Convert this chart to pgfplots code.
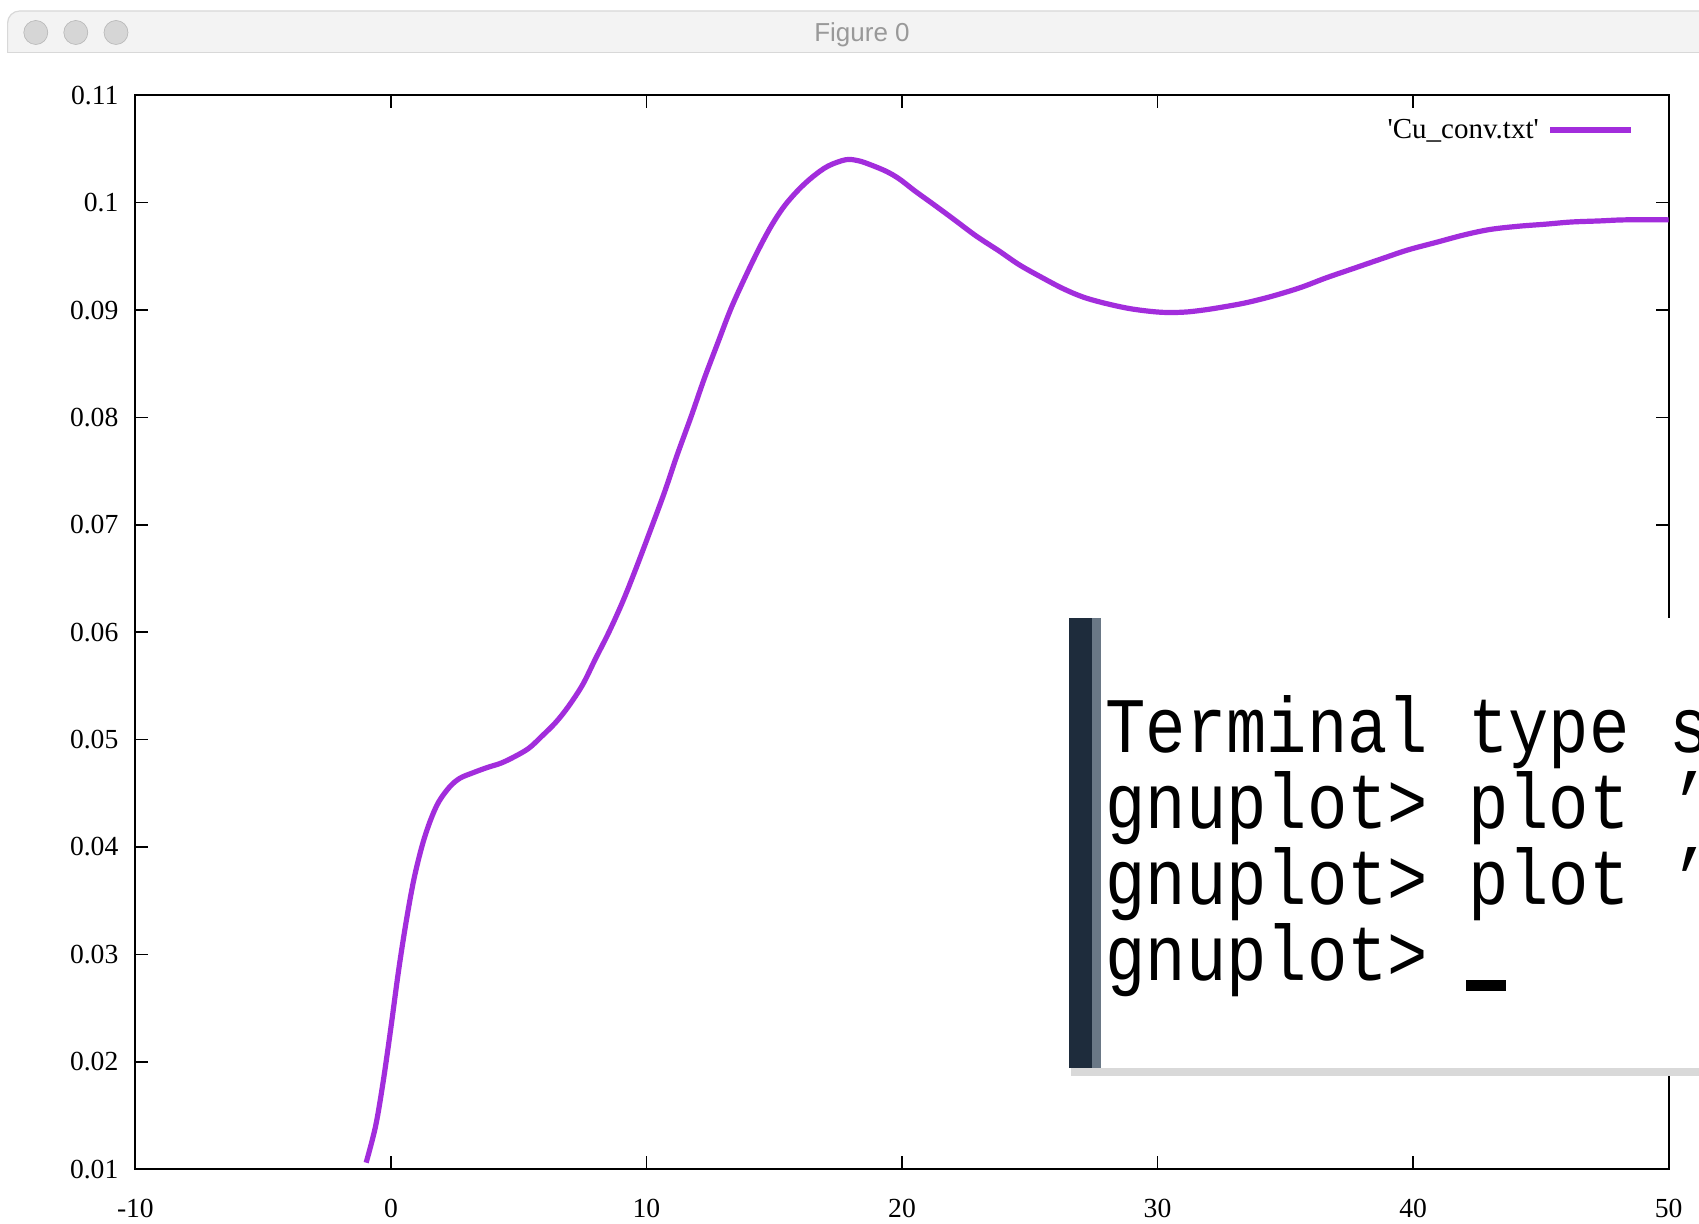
\documentclass[border=0pt]{standalone}
\usepackage{pgfplots}
\pgfplotsset{compat=1.18}
\usepackage{graphicx}
\usepackage{fontspec}
\setmainfont{Liberation Serif}
\newfontfamily\sansf{Liberation Sans}
\newfontfamily\monof{Liberation Mono}
\definecolor{gpviolet}{HTML}{A22DDC}
\definecolor{tbar}{HTML}{F3F3F3}
\definecolor{tbarline}{HTML}{D8D8D8}
\definecolor{btn}{HTML}{D6D6D6}
\definecolor{stripe}{HTML}{1E2C3C}
\definecolor{stripe2}{HTML}{6A7886}

\pgfplotstableread{
x y
-0.97 0.0106
-0.6 0.0140
-0.3 0.0182
0.0 0.0232
0.3 0.0285
0.6 0.0331
0.9 0.0370
1.23 0.0402
1.55 0.0425
1.87 0.0442
2.3 0.0456
2.7 0.0464
3.2 0.0469
3.77 0.0474
4.3 0.0478
4.83 0.0484
5.4 0.0492
5.9 0.0503
6.45 0.0516
6.95 0.0531
7.5 0.0551
8.0 0.0575
8.55 0.0601
9.08 0.0629
9.6 0.0660
10.14 0.0694
10.7 0.0730
11.2 0.0765
11.75 0.0801
12.26 0.0836
12.8 0.0870
13.3 0.0901
13.85 0.0930
14.4 0.0957
14.9 0.0979
15.4 0.0997
15.95 0.1012
16.5 0.1024
17.1 0.1034
17.8 0.1040
18.3 0.1039
18.8 0.1035
19.4 0.1029
19.9 0.1022
20.5 0.1011
21.2 0.0999
22.0 0.0985
22.9 0.0969
23.8 0.0955
24.6 0.0942
25.5 0.0930
26.3 0.0920
27.1 0.0912
28.0 0.0906
29.0 0.0901
30.1 0.0898
31.0 0.0898
31.8 0.0900
32.6 0.0903
33.5 0.0907
34.5 0.0913
35.6 0.0921
36.6 0.0930
37.7 0.0939
38.8 0.0948
39.8 0.0956
40.9 0.0963
42.0 0.0970
43.0 0.0975
44.1 0.0978
45.2 0.0980
46.2 0.0982
47.3 0.0983
48.3 0.0984
50.0 0.0984
}\cuconv

\begin{document}
\begin{tikzpicture}
\useasboundingbox (0,0) rectangle (849.5pt,-612pt);
\fill[white] (0,0) rectangle (849.5pt,-612pt);
% window title bar
\begin{scope}[x=0.5pt,y=-0.5pt]
  \filldraw[fill=tbar, draw=tbarline, line width=0.6pt, rounded corners=6pt]
    (7.6,53) -- (7.6,11) -- (1720,11) -- (1720,53);
  \draw[tbarline, line width=0.8pt] (7.6,52.5) -- (1720,52.5);
  \foreach \cx in {35.8,75.8,116}{
    \filldraw[fill=btn, draw=btn!85!black, line width=0.3pt] (\cx,32.5) circle (6pt);
  }
  \node[text=black!40, font=\sansf\fontsize{13}{15}\selectfont, anchor=center] at (862,35) {Figure 0};
\end{scope}

\begin{axis}[
  at={(67.7pt,-47.65pt)}, anchor=north west,
  scale only axis, width=766.6pt, height=536.9pt,
  xmin=-10, xmax=50, ymin=0.01, ymax=0.11,
  xtick={-10,0,10,20,30,40,50},
  ytick={0.01,0.02,0.03,0.04,0.05,0.06,0.07,0.08,0.09,0.1,0.11},
  yticklabels={0.01,0.02,0.03,0.04,0.05,0.06,0.07,0.08,0.09,0.1,0.11},
  xticklabels={-10,0,10,20,30,40,50},
  tick align=inside,
  major tick length=6.5pt,
  tick style={black, line width=0.8pt},
  axis line style={black, line width=1.1pt},
  ticklabel style={font=\fontsize{13.8}{16}\selectfont},
  xticklabel style={yshift=-11.5pt},
  yticklabel style={xshift=-5pt},
  /pgf/number format/assume math mode=true,
  legend plot pos=right,
  legend cell align=right,
  legend style={draw=none, fill=none, inner sep=0pt, outer sep=0pt,
    at={(0.9774,0.9677)}, anchor=east,
    font=\fontsize{14.5}{17}\selectfont,
    nodes={inner sep=0pt, inner xsep=4.5pt}},
  legend image code/.code={\draw[#1] (0pt,0pt) -- (40.5pt,0pt);},
]
\addplot[gpviolet, line width=2.6pt, smooth, tension=0.55] table[x=x,y=y]{\cuconv};
\addlegendentry{\textquotesingle Cu\_conv.txt\textquotesingle}
\end{axis}

% terminal overlay
\begin{scope}[x=0.5pt,y=-0.5pt]
  \clip (0,0) rectangle (1699,1224);
  \fill[black!30] (1071,621) rectangle (1710,1073);
  \fill[black!15] (1071,621) rectangle (1712,1076);
  \fill[white] (1069,617.6) rectangle (1710,1068.3);
  \fill[stripe] (1069,617.6) rectangle (1092,1068.3);
  \fill[stripe2] (1092,617.6) rectangle (1101,1068.3);
  \foreach \yy/\txt in {753/{Terminal type s},829/{gnuplot> plot ’},905/{gnuplot> plot ’},980/{gnuplot>}}{
    \node[anchor=base west, inner sep=0pt] at (1105,\yy)
      {\scalebox{1}[1.17]{\monof\fontsize{33.6}{36}\selectfont \txt}};
  }
  \fill[black] (1466,980) rectangle (1506,991);
\end{scope}
\end{tikzpicture}
\end{document}
